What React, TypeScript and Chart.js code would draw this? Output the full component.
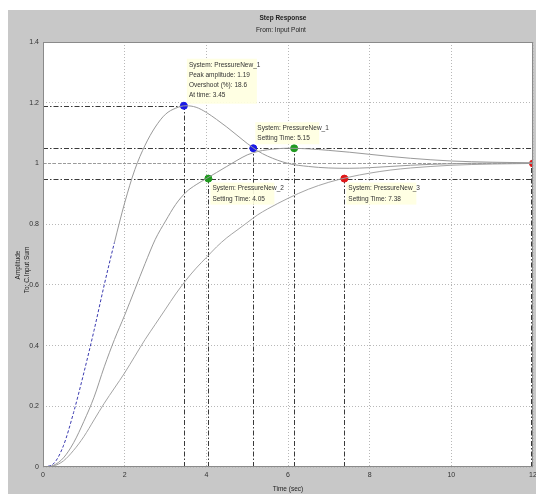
import React, { useEffect, useRef } from "react";
import { Chart, registerables } from "chart.js";

Chart.register(...registerables);

const times = [0, 0.25, 0.5, 0.75, 1, 1.25, 1.5, 1.75, 2, 2.25, 2.5, 2.75, 3, 3.25, 3.5, 3.75, 4, 4.25, 4.5, 4.75, 5, 5.25, 5.5, 6, 6.5, 7, 7.5, 8, 8.5, 9, 9.5, 10, 11, 12];
const resp1 = [0, 0.01, 0.07, 0.18, 0.31, 0.45, 0.6, 0.74, 0.87, 0.98, 1.06, 1.12, 1.162, 1.182, 1.19, 1.185, 1.168, 1.145, 1.12, 1.093, 1.066, 1.042, 1.024, 1.0, 0.99, 0.985, 0.984, 0.986, 0.99, 0.994, 0.997, 0.999, 1.001, 1.001];
const resp2 = [0, 0.005, 0.03, 0.08, 0.15, 0.23, 0.33, 0.42, 0.5, 0.585, 0.67, 0.75, 0.81, 0.865, 0.905, 0.93, 0.95, 0.97, 0.99, 1.01, 1.028, 1.039, 1.045, 1.05, 1.048, 1.043, 1.037, 1.03, 1.023, 1.017, 1.012, 1.008, 1.004, 1.002];
const resp3 = [0, 0.003, 0.02, 0.055, 0.1, 0.155, 0.21, 0.26, 0.31, 0.365, 0.42, 0.47, 0.52, 0.57, 0.615, 0.655, 0.69, 0.725, 0.755, 0.78, 0.805, 0.83, 0.85, 0.885, 0.915, 0.938, 0.955, 0.968, 0.978, 0.985, 0.99, 0.994, 0.998, 1.0];

const markerTimes = [3.45, 5.15, 4.05, 6.15, 7.38, 12];
const markerValues = [1.19, 1.05, 0.95, 1.05, 0.95, 1.0];
const settleBand = [0.95, 1.05];
const finalValue = 1.0;

const yTickLabels = ["0", "0.2", "0.4", "0.6", "0.8", "1", "1.2", "1.4"];
const xTickLabels = ["0", "2", "4", "6", "8", "10", "12"];

const annotationTexts = [
  ["System: PressureNew_1", "Peak amplitude: 1.19", "Overshoot (%): 18.6", "At time: 3.45"],
  ["System: PressureNew_1", "Setting Time: 5.15"],
  ["System: PressureNew_2", "Setting Time: 4.05"],
  ["System: PressureNew_3", "Setting Time: 7.38"],
];
const annotationMarker = [0, 1, 2, 4];

const markerColors = ["#1a1ae6", "#1a1ae6", "#1f9a1f", "#1f9a1f", "#e01818", "#e01818"];
const FONT = '"Liberation Sans", Arial, sans-serif';
const DASHDOT = [5, 2, 1.5, 2];

export default function App() {
  const ref = useRef<HTMLCanvasElement>(null);
  useEffect(() => {
    const canvas = ref.current!;
    const deco = {
      id: "deco",
      beforeDraw(chart: any) {
        const c = chart.ctx;
        const a = chart.chartArea;
        c.save();
        c.fillStyle = "#ffffff";
        c.fillRect(0, 0, chart.width, chart.height);
        c.fillStyle = "#c8c8c8";
        c.fillRect(0, 2, chart.width, chart.height - 2);
        c.fillStyle = "#ffffff";
        c.fillRect(a.left, a.top, a.right - a.left, a.bottom - a.top);
        c.restore();
      },
      beforeDatasetsDraw(chart: any) {
        const c = chart.ctx;
        const xs = chart.scales.x;
        const ys = chart.scales.y;
        const a = chart.chartArea;
        c.save();
        c.lineWidth = 1;
        c.strokeStyle = "#9a9a9a";
        c.setLineDash([3, 2]);
        let py = Math.round(ys.getPixelForValue(finalValue)) + 0.5;
        c.beginPath();
        c.moveTo(a.left, py);
        c.lineTo(a.right, py);
        c.stroke();
        c.strokeStyle = "#3a3a3a";
        c.setLineDash(DASHDOT);
        settleBand.forEach((v) => {
          const y = Math.round(ys.getPixelForValue(v)) + 0.5;
          c.beginPath();
          c.moveTo(a.left, y);
          c.lineTo(a.right, y);
          c.stroke();
        });
        py = Math.round(ys.getPixelForValue(markerValues[0])) + 0.5;
        c.beginPath();
        c.moveTo(a.left, py);
        c.lineTo(xs.getPixelForValue(markerTimes[0]), py);
        c.stroke();
        markerTimes.forEach((t, i) => {
          const x = Math.min(Math.round(xs.getPixelForValue(t)) + 0.5, a.right - 1.5);
          c.beginPath();
          c.moveTo(x, a.bottom);
          c.lineTo(x, ys.getPixelForValue(markerValues[i]));
          c.stroke();
        });
        c.restore();
      },
      afterDatasetsDraw(chart: any) {
        const c = chart.ctx;
        const xs = chart.scales.x;
        const ys = chart.scales.y;
        const a = chart.chartArea;
        c.save();
        c.strokeStyle = "#8a8a8a";
        c.lineWidth = 1;
        c.setLineDash([]);
        c.strokeRect(a.left + 0.5, a.top + 0.5, a.right - a.left - 1, a.bottom - a.top - 1);
        const boxes = [
          { dx: 3, dy: -47, w: 70, h: 45 },
          { dx: 2, dy: -26, w: 64, h: 22 },
          { dx: 2, dy: 4, w: 64, h: 22 },
          { dx: 2, dy: 4, w: 70, h: 22 },
        ];
        c.font = `6.5px ${FONT}`;
        c.textBaseline = "middle";
        c.textAlign = "left";
        annotationTexts.forEach((lines, k) => {
          const m = annotationMarker[k];
          const px = xs.getPixelForValue(markerTimes[m]);
          const py = ys.getPixelForValue(markerValues[m]);
          const b = boxes[k];
          c.fillStyle = "rgba(255,255,225,0.92)";
          c.fillRect(px + b.dx, py + b.dy, b.w, b.h);
          c.fillStyle = "#333333";
          lines.forEach((s, j) => {
            c.fillText(s, px + b.dx + 2, py + b.dy + 6 + j * 10.3);
          });
        });
        c.restore();
      },
      afterDraw(chart: any) {
        const c = chart.ctx;
        c.save();
        c.fillStyle = "#222222";
        c.textAlign = "center";
        c.textBaseline = "middle";
        c.font = `bold 6.5px ${FONT}`;
        c.fillText("Step Response", 275, 10);
        c.font = `6.5px ${FONT}`;
        c.fillText("From: Input Point", 273, 22);
        c.fillText("Time (sec)", 280, 481);
        c.translate(10, 257);
        c.rotate(-Math.PI / 2);
        c.fillText("Amplitude", 0, 0);
        c.restore();
        c.save();
        c.fillStyle = "#222222";
        c.textAlign = "center";
        c.textBaseline = "middle";
        c.font = `6.5px ${FONT}`;
        c.translate(19, 262);
        c.rotate(-Math.PI / 2);
        c.fillText("To: C.Input Sum", 0, 0);
        c.restore();
      },
    };

    const toPts = (vals: number[]) => times.map((t, i) => ({ x: t, y: vals[i] }));
    const chart = new Chart(canvas, {
      type: "line",
      data: {
        datasets: [
          {
            label: "PressureNew_1",
            data: toPts(resp1),
            borderColor: "#9a9a9a",
            borderWidth: 1,
            pointRadius: 0,
            cubicInterpolationMode: "monotone",
            segment: {
              borderColor: (ctx: any) => (ctx.p0.parsed.x < 1.75 ? "#3a3ab0" : "#9a9a9a"),
              borderDash: (ctx: any) => (ctx.p0.parsed.x < 1.75 ? [3, 2] : []),
            },
          } as any,
          {
            label: "PressureNew_2",
            data: toPts(resp2),
            borderColor: "#9a9a9a",
            borderWidth: 1,
            pointRadius: 0,
            cubicInterpolationMode: "monotone",
          },
          {
            label: "PressureNew_3",
            data: toPts(resp3),
            borderColor: "#a4a4a4",
            borderWidth: 1,
            pointRadius: 0,
            cubicInterpolationMode: "monotone",
          },
          {
            label: "markers",
            data: markerTimes.map((t, i) => ({ x: t, y: markerValues[i] })),
            showLine: false,
            pointRadius: 3.5,
            pointStyle: "circle",
            pointBackgroundColor: markerColors,
            pointBorderColor: markerColors,
          },
        ],
      },
      options: {
        animation: false,
        responsive: false,
        events: [],
        layout: { autoPadding: false, padding: { top: 34, right: 3, left: 0, bottom: 0 } },
        plugins: { legend: { display: false }, tooltip: { enabled: false }, title: { display: false } },
        scales: {
          x: {
            type: "linear",
            min: 0,
            max: 12,
            afterFit: (s: any) => {
              s.height = 27;
              s.paddingLeft = 0;
              s.paddingRight = 0;
            },
            ticks: {
              stepSize: 2,
              padding: 4,
              color: "#333",
              font: { size: 7, family: FONT },
              maxRotation: 0,
              callback: (_v: any, i: number) => xTickLabels[i],
            },
            grid: { color: "#b8b8b8", drawTicks: false },
            border: { display: false, dash: [1, 2] },
          },
          y: {
            min: 0,
            max: 1.4,
            afterFit: (s: any) => {
              s.width = 35;
              s.paddingTop = 0;
              s.paddingBottom = 0;
            },
            ticks: {
              stepSize: 0.2,
              padding: 4,
              color: "#333",
              font: { size: 7, family: FONT },
              callback: (_v: any, i: number) => yTickLabels[i],
            },
            grid: { color: "#b8b8b8", drawTicks: false },
            border: { display: false, dash: [1, 2] },
          },
        },
      },
      plugins: [deco],
    });
    return () => chart.destroy();
  }, []);
  return (
    <canvas
      ref={ref}
      width={528}
      height={486}
      style={{ display: "block", position: "fixed", left: 8, top: 8, width: 528, height: 486 }}
    />
  );
}
